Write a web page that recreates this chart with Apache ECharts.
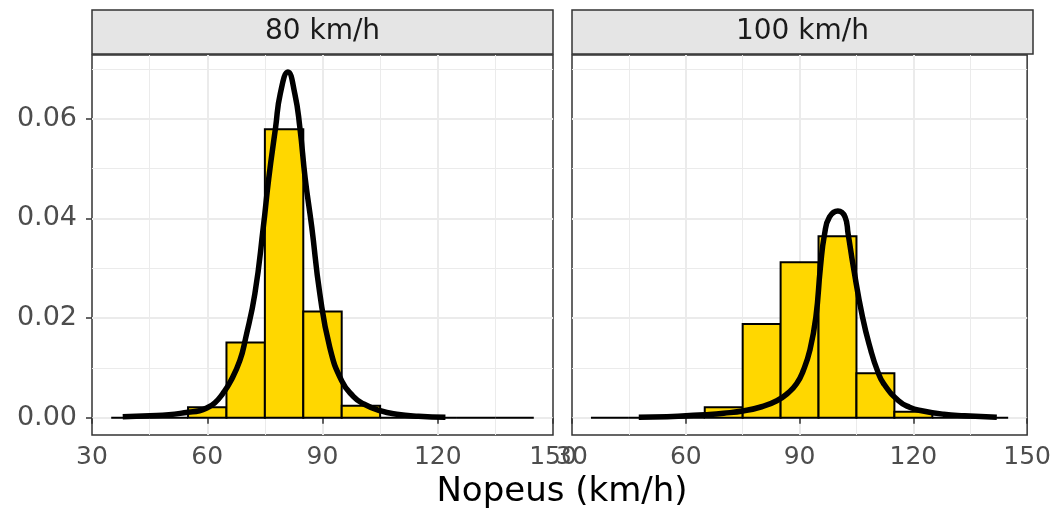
<!DOCTYPE html>
<html>
<head>
<meta charset="utf-8">
<script src="https://cdn.jsdelivr.net/npm/echarts@6.0.0/dist/echarts.min.js"></script>
<style>
  html, body { margin: 0; padding: 0; background: #fff; }
  #main { width: 1054px; height: 510px; }
</style>
</head>
<body>
<div id="main"></div>
<script>
// facets
var panels = ['80 km/h', '100 km/h'];

// histogram bins (width 10), left edges
var binStarts = [35, 45, 55, 65, 75, 85, 95, 105, 115, 125, 135];
var hist80 = [0, 0, 0.0021, 0.0151, 0.0579, 0.0213, 0.0024, 0, 0, 0, 0];
var hist100 = [0, 0, 0, 0.0021, 0.0188, 0.0312, 0.0364, 0.0089, 0.0012, 0, 0];

// fitted density curves
var curveX80 = [38, 45, 50, 55, 58, 60, 62, 64, 66, 68.5, 70, 72.4, 74.6, 76, 77.8, 79, 81, 82.8, 84.1, 85.5, 87.2, 89.3, 91.9, 95, 98, 100.6, 105, 109.3, 115, 122];
var curveY80 = [0.0002, 0.0004, 0.0006, 0.0011, 0.0014, 0.0020, 0.0030, 0.0048, 0.0072, 0.0115, 0.0160, 0.0249, 0.0383, 0.0480, 0.0583, 0.0650, 0.0694, 0.0650, 0.0583, 0.0480, 0.0383, 0.0249, 0.0141, 0.0074, 0.0043, 0.0028, 0.0014, 0.0007, 0.0003, 0.0001];
var curveX100 = [47.6, 55, 60, 65, 70, 75.4, 80, 84, 87, 89.2, 91, 92.7, 94.3, 95.5, 96.6, 97.9, 100.1, 102.0, 102.8, 104.2, 106.6, 108.8, 110.5, 112.2, 116.1, 119, 122.2, 128, 133.5, 142];
var curveY100 = [0.0001, 0.0002, 0.0004, 0.0006, 0.0009, 0.0014, 0.0022, 0.0034, 0.0050, 0.0068, 0.0095, 0.0135, 0.0202, 0.0302, 0.0369, 0.0403, 0.0415, 0.0403, 0.0369, 0.0302, 0.0202, 0.0135, 0.0095, 0.0068, 0.0034, 0.0021, 0.0014, 0.0007, 0.0004, 0.0001];

// axis ticks
var xTicks = [30, 60, 90, 120, 150];
var yTicks = [0, 0.02, 0.04, 0.06];
var yMinor = [0.01, 0.03, 0.05, 0.07];

var binWidth = 10;
var font = 'DejaVu Sans';
var gridPos = [{ left: 92, top: 55, width: 461, height: 380 },
               { left: 572, top: 55, width: 461, height: 380 }];

function binData(h) {
    return binStarts.map(function (b, i) { return [b, b + binWidth, h[i]]; });
}
function curveData(xs, ys) {
    return xs.map(function (x, i) { return [x, ys[i]]; });
}

function renderBin(params, api) {
    var p0 = api.coord([api.value(0), api.value(2)]);
    var p1 = api.coord([api.value(1), 0]);
    return {
        type: 'rect',
        shape: { x: p0[0], y: p0[1], width: p1[0] - p0[0], height: p1[1] - p0[1] },
        style: { fill: '#FFD700', stroke: '#000', lineWidth: 2 }
    };
}

var grids = [], xAxes = [], yAxes = [], series = [], graphics = [];
var hists = [hist80, hist100];
var curves = [[curveX80, curveY80], [curveX100, curveY100]];

panels.forEach(function (name, i) {
    var g = gridPos[i];
    grids.push({ left: g.left, top: g.top, width: g.width, height: g.height,
        show: true, borderColor: '#333333', borderWidth: 1.5, backgroundColor: 'transparent' });

    xAxes.push({
        gridIndex: i, type: 'value', min: xTicks[0], max: xTicks[xTicks.length - 1], interval: 30,
        axisLine: { show: false },
        axisTick: { length: 6, lineStyle: { color: '#333', width: 1.5 } },
        axisLabel: { color: '#4D4D4D', fontSize: 25, fontFamily: font, margin: 10,
            showMinLabel: true, showMaxLabel: true },
        splitLine: { show: true, showMinLine: false, showMaxLine: false, lineStyle: { color: '#EBEBEB', width: 2 } },
        minorTick: { show: false, splitNumber: 2 },
        minorSplitLine: { show: true, lineStyle: { color: '#EBEBEB', width: 1 } }
    });

    // main y axis
    yAxes.push({
        gridIndex: i, type: 'value', min: -0.00347, max: 0.0728,
        axisLine: { show: false },
        axisTick: { show: i === 0, length: 6, customValues: yTicks, lineStyle: { color: '#333', width: 1.5 } },
        axisLabel: { show: i === 0, customValues: yTicks, color: '#4D4D4D', fontSize: 27, fontFamily: font, margin: 15,
            formatter: function (v) { return v.toFixed(2); } },
        splitLine: { show: true, lineStyle: { color: '#EBEBEB', width: 2 } }
    });

    graphics.push({
        type: 'rect', shape: { x: g.left, y: 10, width: g.width, height: 44 },
        style: { fill: '#E5E5E5', stroke: '#333333', lineWidth: 1.5 }
    });
    graphics.push({
        type: 'text', x: g.left + g.width / 2, y: 32,
        style: { text: name, font: '28px "' + font + '"', fill: '#1A1A1A', textAlign: 'center', textVerticalAlign: 'middle' }
    });

    series.push({
        type: 'custom', xAxisIndex: i, yAxisIndex: i, renderItem: renderBin,
        encode: { x: [0, 1], y: 2 }, data: binData(hists[i]), z: 2
    });
    series.push({
        type: 'line', xAxisIndex: i, yAxisIndex: i, showSymbol: false, smooth: 0.5,
        lineStyle: { color: '#000', width: 5.5 }, data: curveData(curves[i][0], curves[i][1]), z: 3
    });
});

// minor y grid lines
panels.forEach(function (name, i) {
    yAxes.push({
        gridIndex: i, type: 'value', min: -0.00347, max: 0.0728,
        axisLine: { show: false },
        axisTick: { show: false, customValues: yMinor },
        axisLabel: { show: false, customValues: yMinor },
        splitLine: { show: true, lineStyle: { color: '#EBEBEB', width: 1 } }
    });
});

graphics.push({
    type: 'text', x: 562, y: 492,
    style: { text: 'Nopeus (km/h)', font: '34px "' + font + '"', fill: '#000', textAlign: 'center', textVerticalAlign: 'middle' }
});

var chart = echarts.init(document.getElementById('main'));
chart.setOption({
    animation: false,
    grid: grids,
    xAxis: xAxes,
    yAxis: yAxes,
    series: series,
    graphic: graphics
});
</script>
</body>
</html>
